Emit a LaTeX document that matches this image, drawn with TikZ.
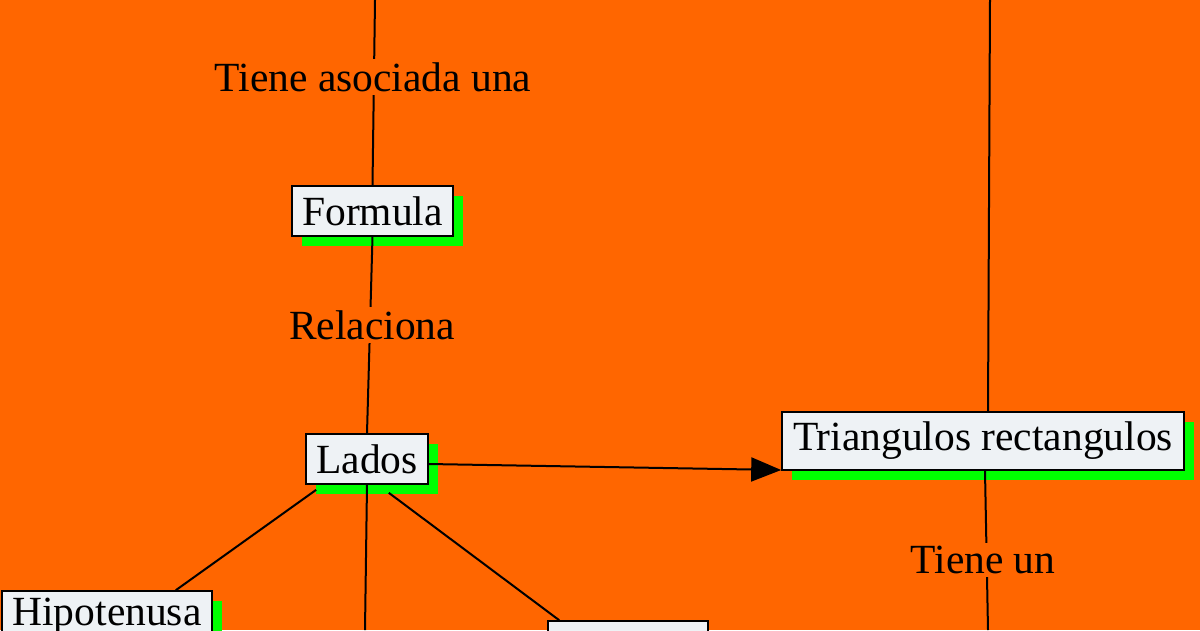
\documentclass[tikz,border=0pt]{standalone}
\usepackage{fontspec}
\setmainfont{Liberation Serif}
\usetikzlibrary{arrows.meta,shadows,calc}
\definecolor{bgorange}{RGB}{255,102,0}
\definecolor{shadowgreen}{RGB}{0,255,0}
\definecolor{boxfill}{RGB}{238,242,245}
\tikzset{
  concept/.style={draw=black, line width=1.6pt, fill=boxfill, inner sep=0pt,
    minimum height=50pt, font=\fontsize{41.5}{50}\selectfont,
    drop shadow={shadow xshift=10pt, shadow yshift=-10pt, fill=shadowgreen, opacity=1}},
  link/.style={draw=black, line width=2pt},
  lbl/.style={fill=bgorange, inner sep=3pt, font=\fontsize{41.5}{50}\selectfont}
}
\begin{document}
\begin{tikzpicture}[x=1pt,y=-1pt]
\fill[bgorange] (0,0) rectangle (1200,630);
\useasboundingbox (0,0) rectangle (1200,630);
\clip (0,0) rectangle (1200,630);
% off-picture ends
\coordinate (topA) at (375,0);
\coordinate (topB) at (990,0);
\coordinate (botL) at (365,630);
\coordinate (botR) at (988,630);
% nodes
\node[concept, minimum width=161pt] (formula) at (372.5,211) {Formula};
\node[concept, minimum width=122pt] (lados) at (367,459) {Lados};
\node[concept, minimum width=402pt, minimum height=58pt] (tri) at (983,441) {Triangulos rectangulos};
\node[concept, minimum width=210pt] (hipo) at (107,616) {Hipotenusa};
\node[concept, minimum width=160pt] (cat) at (628,646) {};
% connectors
\draw[link] (topA) -- (formula.north);
\draw[link] (formula.south) -- (lados.north);
\draw[link] (topB) -- ($(tri.north)+(5,0)$);
\draw[link] ($(tri.south)+(2,0)$) -- (botR);
\draw[link] ($(lados.south west)+(11,5)$) -- ($(hipo.north east)+(-37,0)$);
\draw[link] (lados.south) -- (botL);
\draw[link] ($(lados.south east)+(-40,8)$) -- ($(cat.north west)+(12,0)$);
\draw[link, -{Triangle[length=30pt,width=24pt]}] ($(lados.east)+(0,5)$) -- (tri.west |- 0,470);
% labels
\node[lbl] (l1) at (373,77) {Tiene asociada una};
\node[lbl] (l2) at (372,325) {Relaciona};
\node[lbl] (l3) at (983,560) {Tiene un};
\end{tikzpicture}
\end{document}
